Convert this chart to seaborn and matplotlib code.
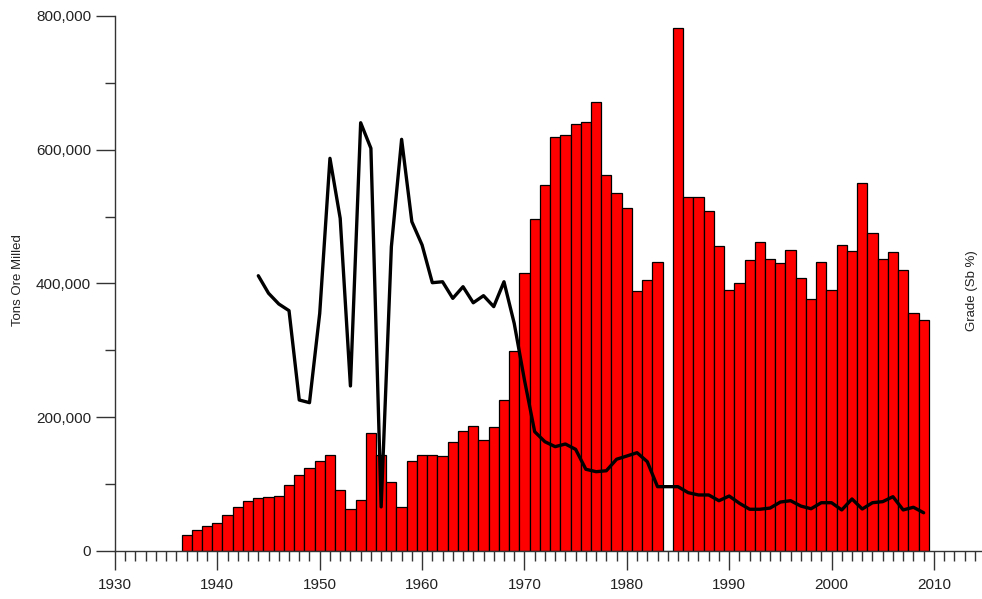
import matplotlib
matplotlib.use("Agg")
import matplotlib.pyplot as plt
import seaborn as sns
import numpy as np
import pandas as pd
from matplotlib.ticker import MultipleLocator, FuncFormatter

# Annual ore milled (tons), 1937-2009; no milling recorded in 1984
mill_years = list(range(1937, 2010))
tons_milled = [
    24400, 31000, 37400, 41400, 53300, 65300, 74300, 78800, 80300, 82700,   # 1937-1946
    98200, 113600, 124600, 134600, 144000, 91200, 63300, 75800, 176400, 143100,  # 1947-1956
    102700, 66300, 134600, 143100, 144000, 141600, 162500, 179000, 187400, 165500,  # 1957-1966
    185900, 225300, 299000, 415300, 496000, 547300, 618600, 622500, 638000, 642000,  # 1967-1976
    670900, 562700, 534800, 512400, 388300, 404700, 432600, 0, 781500, 528900,  # 1977-1986
    528900, 508400, 456500, 389800, 400700, 434700, 462500, 436200, 430200, 449600,  # 1987-1996
    407800, 377300, 432600, 389800, 458000, 448100, 549800, 475000, 437100, 446600,  # 1997-2006
    420200, 355900, 345400,  # 2007-2009
]

# Average head grade (Sb %), 1944-2009
grade_years = list(range(1944, 2010))
grade_sb = [
    20.58, 19.27, 18.47, 17.97, 11.29, 11.09, 17.77, 29.36, 24.87, 12.34,  # 1944-1953
    32.02, 30.11, 3.30, 22.75, 30.78, 24.62, 22.88, 20.06, 20.13, 18.89,   # 1954-1963
    19.76, 18.56, 19.09, 18.27, 20.13, 17.02, 12.79, 8.92, 8.17, 7.80,     # 1964-1973
    8.00, 7.60, 6.11, 5.93, 6.00, 6.86, 7.10, 7.35, 6.68, 4.81,            # 1974-1983
    4.81, 4.81, 4.36, 4.19, 4.19, 3.76, 4.11, 3.57, 3.12, 3.12,            # 1984-1993
    3.21, 3.66, 3.76, 3.36, 3.16, 3.61, 3.61, 3.07, 3.89, 3.14,            # 1994-2003
    3.61, 3.69, 4.06, 3.07, 3.27, 2.86,                                    # 2004-2009
]

mill_df = pd.DataFrame({"year": mill_years, "tons": tons_milled})
grade_df = pd.DataFrame({"year": grade_years, "grade": grade_sb})

sns.set_style("ticks")
plt.rcParams["font.family"] = ["Liberation Sans", "DejaVu Sans"]
text_col = "#222222"
axis_col = "#333333"

fig = plt.figure(figsize=(9.82, 5.99), dpi=100)
ax = fig.add_axes([115 / 982, 48 / 599, (982 - 115) / 982, 535 / 599])

sns.histplot(data=mill_df, x="year", weights="tons", discrete=True,
             color="#ff0000", alpha=1.0, edgecolor="black", linewidth=0.9,
             ax=ax, zorder=2)

ax.set_xlim(1930, 2014.7)
ax.set_ylim(0, 800000)
ax.xaxis.set_major_locator(MultipleLocator(10))
ax.xaxis.set_minor_locator(MultipleLocator(1))
ax.yaxis.set_major_locator(MultipleLocator(200000))
ax.yaxis.set_minor_locator(MultipleLocator(100000))
ax.yaxis.set_major_formatter(FuncFormatter(lambda v, p: f"{int(v):,}"))
ax.tick_params(axis="both", which="major", length=13.7, width=1.0,
               color=axis_col, labelsize=11, labelcolor=text_col)
ax.tick_params(axis="x", which="major", pad=6)
ax.tick_params(axis="y", which="major", pad=3.5)
ax.tick_params(axis="both", which="minor", length=7.2, width=1.0, color=axis_col)
for side in ("top", "right"):
    ax.spines[side].set_visible(False)
for side in ("left", "bottom"):
    ax.spines[side].set_color(axis_col)
    ax.spines[side].set_linewidth(1.0)
ax.set_xlabel("")
ax.set_ylabel("")

ax2 = ax.twinx()
sns.lineplot(data=grade_df, x="year", y="grade", color="black", linewidth=2.4,
             ax=ax2, solid_joinstyle="round", solid_capstyle="round")
ax2.set_ylim(0, 40)
ax2.set_xlim(1930, 2014.7)
ax2.set_yticks([])
ax2.set_xlabel("")
ax2.set_ylabel("")
for side in ax2.spines:
    ax2.spines[side].set_visible(False)

fig.text(18.5 / 982, 1 - 280 / 599, "Tons Ore Milled", rotation=90, fontsize=9.5,
         color=text_col, ha="center", va="center")
fig.text(972 / 982, 1 - 291 / 599, "Grade (Sb %)", rotation=90, fontsize=9.5,
         color=text_col, ha="center", va="center")

fig.savefig("out.png", dpi=100)
